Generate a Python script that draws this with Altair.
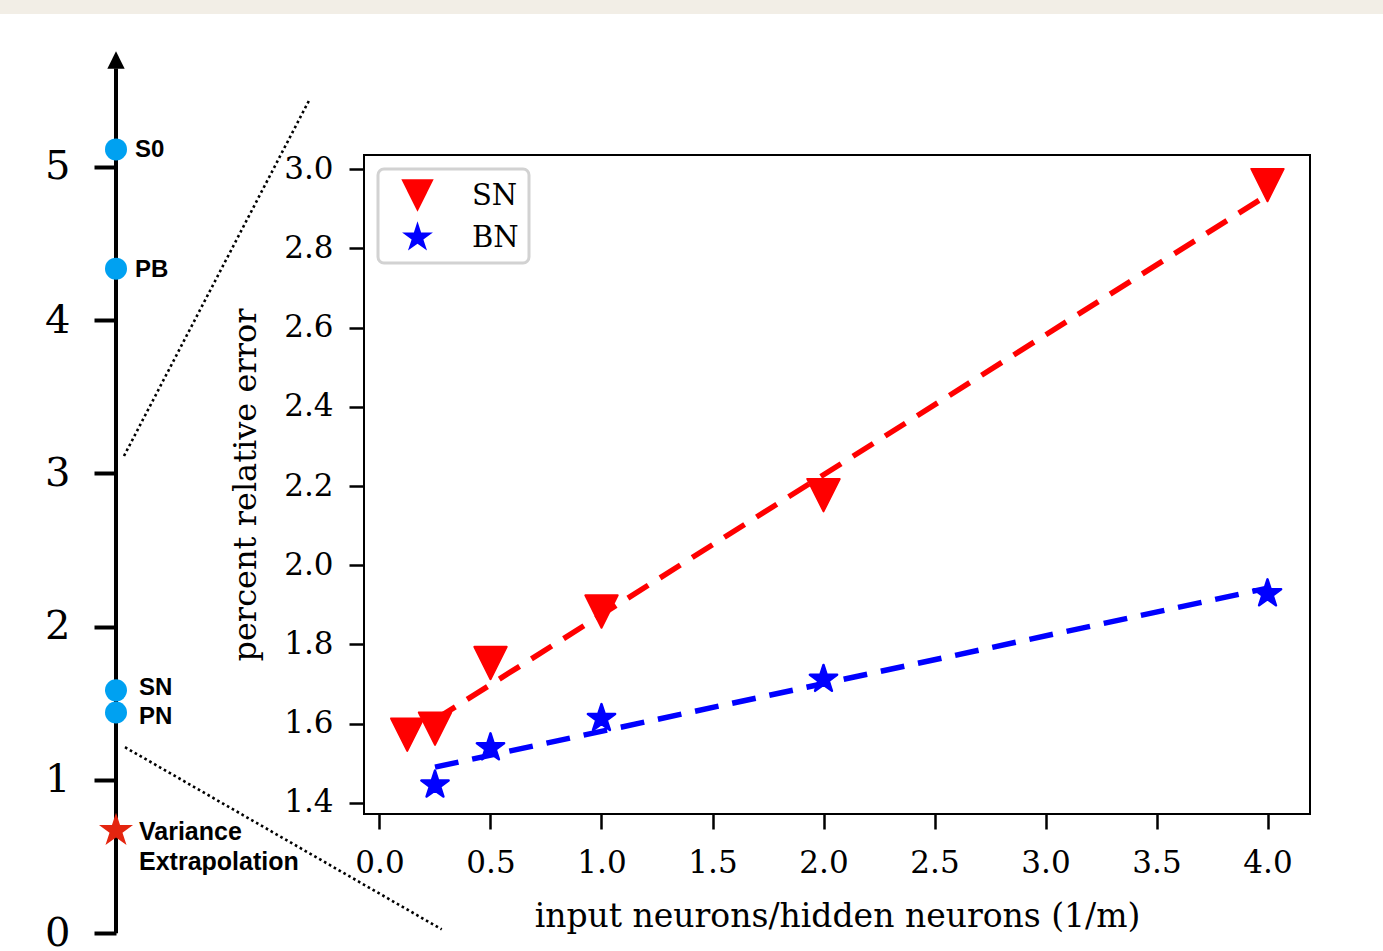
import altair as alt
import pandas as pd

# ---- right panel: percent relative error vs. input/hidden neuron ratio ----
ratio_sn = [0.125, 0.25, 0.5, 1.0, 2.0, 4.0]
error_sn = [1.572, 1.587, 1.753, 1.883, 2.177, 2.960]
ratio_bn = [0.25, 0.5, 1.0, 2.0, 4.0]
error_bn = [1.445, 1.539, 1.613, 1.712, 1.928]

# straight-line fits, drawn between their end points
fit_ratio = [0.25, 4.0]
fit_sn = [1.61, 2.935]
fit_bn = [1.49, 1.942]

x_ticks = [0.0, 0.5, 1.0, 1.5, 2.0, 2.5, 3.0, 3.5, 4.0]
y_ticks = [1.4, 1.6, 1.8, 2.0, 2.2, 2.4, 2.6, 2.8, 3.0]

# ---- left panel: methods placed on a vertical scale ----
method_names = ["S0", "PB", "SN", "PN"]
method_values = [5.113, 4.335, 1.584, 1.44]
variance_label = "Variance\nExtrapolation"
variance_value = 0.669
scale_ticks = [0, 1, 2, 3, 4, 5]
scale_extent = [0.0, 5.64]
arrow_value = [5.696]

# zoom guides: scale value where each dotted line starts and ends
upper_guide = [3.113, 5.435]
lower_guide = [1.213, 0.025]

SERIF = "DejaVu Serif"
SANS = "Liberation Sans"

TRI_DOWN = "M-1,-1L1,-1L0,1Z"
TRI_UP = "M0,-1L1,1L-1,1Z"
STAR = ("M0,-1L0.2245,-0.309L0.951,-0.309L0.363,0.118L0.588,0.809"
        "L0,0.382L-0.588,0.809L-0.363,0.118L-0.951,-0.309L-0.2245,-0.309Z")

# ---------------- right panel ----------------
pts = pd.DataFrame({
    "ratio": ratio_sn + ratio_bn,
    "error": error_sn + error_bn,
    "series": ["SN"] * len(ratio_sn) + ["BN"] * len(ratio_bn),
})
fits = pd.DataFrame({
    "ratio": fit_ratio * 2,
    "error": fit_sn + fit_bn,
    "series": ["SN"] * 2 + ["BN"] * 2,
})

x_enc = alt.X(
    "ratio:Q",
    scale=alt.Scale(domain=[-0.0698, 4.1914], nice=False, zero=False),
    axis=alt.Axis(
        values=x_ticks, format=".1f", title="input neurons/hidden neurons (1/m)",
        orient="bottom", tickSize=15, tickWidth=2.5, tickColor="black",
        labelFont=SERIF, labelFontSize=31, labelPadding=19, labelColor="black",
        titleFont=SERIF, titleFontSize=33, titleFontWeight="normal",
        titleColor="black", titlePadding=22, grid=False, domain=False,
    ),
)
y_enc = alt.Y(
    "error:Q",
    scale=alt.Scale(domain=[1.3716, 3.0361], nice=False, zero=False),
    axis=alt.Axis(
        values=y_ticks, format=".1f", title="percent relative error",
        orient="left", tickSize=15, tickWidth=2.5, tickColor="black",
        labelFont=SERIF, labelFontSize=31, labelPadding=16, labelColor="black",
        titleFont=SERIF, titleFontSize=32, titleFontWeight="normal",
        titleColor="black", titlePadding=21, grid=False, domain=False,
    ),
)
color_enc = alt.Color(
    "series:N",
    scale=alt.Scale(domain=["SN", "BN"], range=["#ff0000", "#0000ff"]),
    legend=alt.Legend(
        title=None, orient="top-left", offset=14, padding=10,
        strokeColor="#d2d2d2", cornerRadius=6, fillColor="white",
        symbolSize=1050, symbolOffset=13, symbolStrokeWidth=0,
        labelFont=SERIF, labelFontSize=29, labelColor="black",
        labelOffset=38, rowPadding=9,
    ),
)
shape_enc = alt.Shape(
    "series:N",
    scale=alt.Scale(domain=["SN", "BN"], range=[TRI_DOWN, STAR]),
)
stroke_enc = alt.Stroke(
    "series:N",
    scale=alt.Scale(domain=["SN", "BN"], range=["#ff0000", "#0000ff"]),
    legend=None,
)

sn_pts = alt.Chart(pts).transform_filter(alt.datum.series == "SN").mark_point(
    filled=True, opacity=1, size=1050, strokeWidth=2, strokeJoin="round"
).encode(x=x_enc, y=y_enc, color=color_enc, shape=shape_enc, stroke=stroke_enc)
bn_pts = alt.Chart(pts).transform_filter(alt.datum.series == "BN").mark_point(
    filled=True, opacity=1, size=820, strokeWidth=2.5, strokeJoin="round"
).encode(x=x_enc, y=y_enc, color=color_enc, shape=shape_enc, stroke=stroke_enc)

sn_fit = alt.Chart(fits).transform_filter(alt.datum.series == "SN").mark_line(
    color="#ff0000", strokeWidth=5.5, strokeDash=[24, 14]
).encode(x=x_enc, y=y_enc)
bn_fit = alt.Chart(fits).transform_filter(alt.datum.series == "BN").mark_line(
    color="#0000ff", strokeWidth=5.5, strokeDash=[24, 14]
).encode(x=x_enc, y=y_enc)

right = alt.layer(sn_pts, bn_pts, sn_fit, bn_fit)

# ---------------- left panel ----------------
AXIS_X = -248  # the vertical scale sits this far left of the error plot


def scale_y(field):
    return alt.Y(
        field,
        scale=alt.Scale(domain=[0, 5], range=[778.2, 11.7], nice=False, zero=False),
        axis=alt.Axis(
            values=scale_ticks, format="d", title=None, orient="left",
            offset=-AXIS_X, tickSize=22, tickWidth=4, tickColor="black",
            labelFont=SERIF, labelFontSize=40, labelPadding=24,
            labelColor="black", grid=False, domain=False,
        ),
    )


one = pd.DataFrame({"k": [0]})

band = alt.Chart(one).mark_rect(color="#f2eee6").encode(
    x=alt.value(-364), x2=alt.value(1019), y=alt.value(-155), y2=alt.value(-141)
)

ext = pd.DataFrame({"lo": [scale_extent[0]], "hi": [scale_extent[1]]})
axis_line = alt.Chart(ext).mark_rule(color="black", strokeWidth=4).encode(
    x=alt.value(AXIS_X), y=scale_y("lo:Q"), y2="hi:Q"
)
arrow = alt.Chart(pd.DataFrame({"v": arrow_value})).mark_point(
    shape=TRI_UP, filled=True, color="black", opacity=1, size=300, strokeWidth=0
).encode(x=alt.value(AXIS_X), y=scale_y("v:Q"))

guides = pd.DataFrame({"a": [upper_guide[0]], "b": [upper_guide[1]]})
guide_up = alt.Chart(guides).mark_rule(
    color="black", strokeWidth=2.6, strokeDash=[2.6, 3.0]
).encode(x=alt.value(-240), x2=alt.value(-54.7), y=scale_y("a:Q"), y2="b:Q")
guides2 = pd.DataFrame({"a": [lower_guide[0]], "b": [lower_guide[1]]})
guide_low = alt.Chart(guides2).mark_rule(
    color="black", strokeWidth=2.6, strokeDash=[2.6, 3.0]
).encode(x=alt.value(-239), x2=alt.value(77.7), y=scale_y("a:Q"), y2="b:Q")

methods = pd.DataFrame({"name": method_names, "v": method_values})
dots = alt.Chart(methods).mark_point(
    shape="circle", filled=True, color="#00a1f1", opacity=1, size=484, strokeWidth=0
).encode(x=alt.value(AXIS_X), y=scale_y("v:Q"))


def method_label(names, dx, dy):
    return alt.Chart(methods).transform_filter(
        alt.FieldOneOfPredicate(field="name", oneOf=names)
    ).mark_text(
        align="left", baseline="middle", dx=dx, dy=dy, font=SANS,
        fontWeight="bold", fontSize=24, color="black"
    ).encode(x=alt.value(AXIS_X), y=scale_y("v:Q"), text="name:N")


upper_labels = method_label(["S0", "PB"], 19, 1)
sn_label = method_label(["SN"], 23, -2)
pn_label = method_label(["PN"], 23, 5)

var_df = pd.DataFrame({"name": [variance_label], "v": [variance_value]})
var_star = alt.Chart(var_df).mark_point(
    shape=STAR, filled=True, color="#e4250f", opacity=1, size=1280, strokeWidth=0
).encode(x=alt.value(AXIS_X), y=scale_y("v:Q"))
var_label = alt.Chart(var_df).mark_text(
    align="left", baseline="top", dx=23, dy=-11, lineBreak="\n", lineHeight=30,
    font=SANS, fontWeight="bold", fontSize=25, color="black"
).encode(x=alt.value(AXIS_X), y=scale_y("v:Q"), text="name:N")

left = alt.layer(band, guide_up, guide_low, axis_line, arrow, dots,
                 upper_labels, sn_label, pn_label, var_star, var_label)

chart = alt.layer(left, right).resolve_scale(y="independent").properties(
    width=946, height=659,
    autosize=alt.AutoSizeParams(type="none"),
    padding={"left": 364, "top": 155, "right": 73, "bottom": 137},
    background="white",
).configure_view(stroke="black", strokeWidth=2).configure_legend(strokeWidth=3)

chart.save("out.html", embed_options={"renderer": "svg", "actions": False})
